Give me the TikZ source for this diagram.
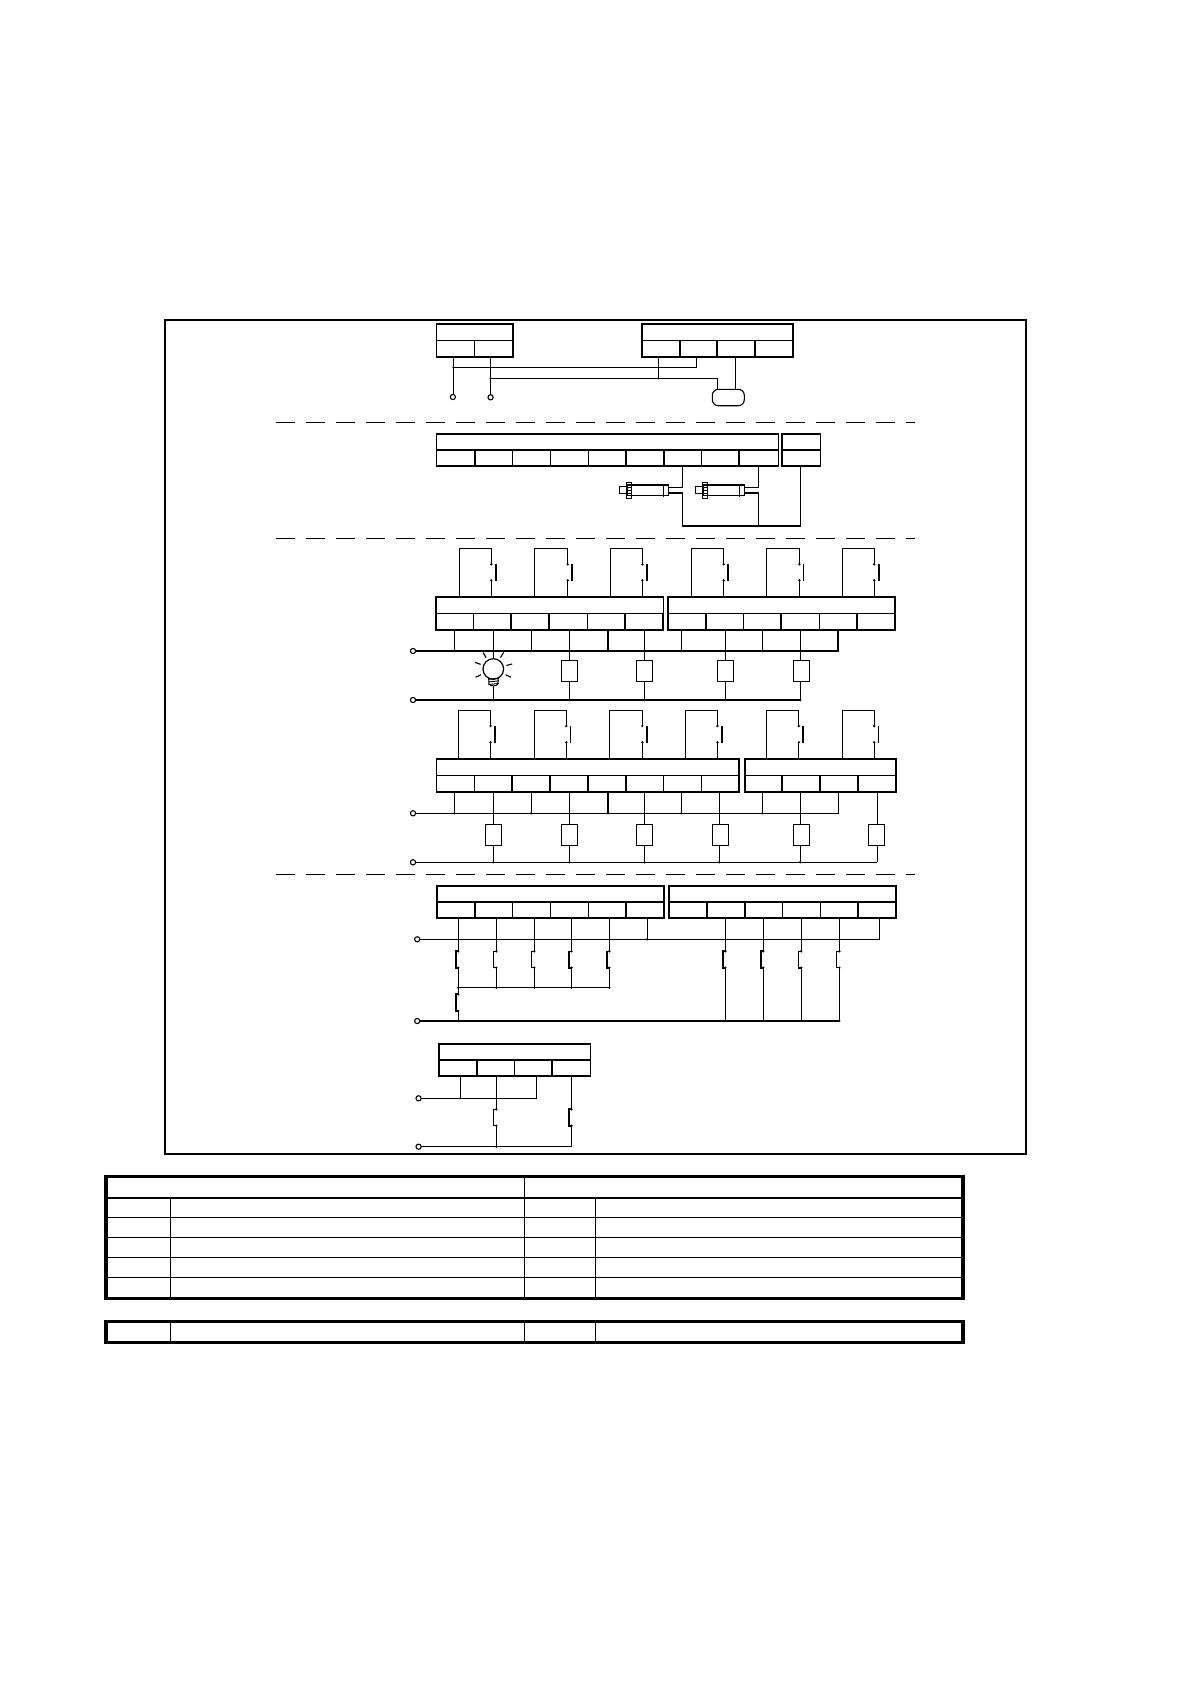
\documentclass[tikz,border=0pt]{standalone}
\usetikzlibrary{positioning}

\tikzset{
    wire/.style={line width=1.2pt},
    blockline/.style={line width=1.8pt},
    hdbox/.style={draw, rectangle, inner sep=0pt, outer sep=0pt, line width=1.2pt},
    cellbox/.style={draw, rectangle, inner sep=0pt, outer sep=0pt, line width=1.1pt},
    load/.style={draw, rectangle, inner sep=0pt, outer sep=0pt, line width=1.2pt, minimum width=16.5pt, minimum height=21.4pt},
    term/.style={draw, circle, inner sep=0pt, outer sep=0pt, line width=1.1pt, minimum size=5.2pt},
    sepline/.style={line width=0.9pt, dash pattern=on 18.7pt off 11.3pt},
    tabthick/.style={line width=3.2pt},
    tabthin/.style={line width=1.2pt},
}

% name, left, right, top, mid, bottom, list of right edge/line width
\newcommand{\termblock}[7]{
    \pgfmathsetmacro{\hdw}{#3-(#2)}
    \pgfmathsetmacro{\hdh}{#5-(#4)}
    \pgfmathsetmacro{\hdx}{(#2+#3)/2}
    \pgfmathsetmacro{\hdy}{(#4+#5)/2}
    \pgfmathsetmacro{\clh}{#6-(#5)}
    \pgfmathsetmacro{\cly}{(#5+#6)/2}
    \node[hdbox, minimum width=\hdw pt, minimum height=\hdh pt] (#1) at (\hdx,\hdy) {};
    \foreach \d/\w [remember=\d as \prev (initially #2), count=\i] in {#7} {
        \pgfmathsetmacro{\clw}{\d-\prev}
        \pgfmathsetmacro{\clx}{(\d+\prev)/2}
        \node[cellbox, minimum width=\clw pt, minimum height=\clh pt] (#1-\i) at (\clx,\cly) {};
        \draw[line width=1.15*\w pt] (\d,#5) -- (\d,#6);
    }
    \draw[blockline] (#2,#4) rectangle (#3,#6);
    \draw[line width=1.4pt] (#2,#5) -- (#3,#5);
}

% left wire, right wire, top, dot, dot, bar width, block name
\newcommand{\contactloop}[7]{
    \coordinate (cl) at (#1,#3);
    \coordinate (cu) at (#2,#4);
    \coordinate (cd) at (#2,#5);
    \draw[wire] (cl |- #7.north) -- (cl) -| (cu);
    \draw[wire] (cd) -- (cd |- #7.north);
    \fill (cu) circle[radius=1.3];
    \fill (cd) circle[radius=1.3];
    \draw[line width=1.15*#6pt] ([xshift=4.5pt,yshift=0.5pt]cu) -- ([xshift=4.5pt,yshift=-0.7pt]cd);
}

% wire, dot, dot, bar width
\newcommand{\breakcontact}[4]{
    \fill (#1,#2) circle[radius=1.3];
    \fill (#1,#3) circle[radius=1.3];
    \draw[line width=1.15*#4pt] (#1,#2) -- ++(-2.6,0) |- (#1,#3);
}

\begin{document}
\begin{tikzpicture}[x=1pt, y=-1pt]
    \useasboundingbox (0,0) rectangle (1190,1684);
    \draw[line width=1.8pt] (164.7,320) rectangle (1026.3,1154);

    \foreach \y in {422.3,538.7,874.3} {
        \draw[sepline] (276,\y) -- (915,\y);
    }

    % supply
    \termblock{pwa}{436.5}{513.3}{324.3}{340.3}{357}{474.4/1,513.3/1}
    \termblock{pwb}{642}{793}{324.3}{340.3}{357}{680/1.6,717/1,755/1,793/1}
    \node[term] (ta) at (452.9,397) {};
    \node[term] (tb) at (490.6,397.3) {};
    \node[draw, rectangle, rounded corners=6pt, line width=1.1pt, inner sep=0pt, outer sep=0pt,
        minimum width=32pt, minimum height=16.4pt] (lamp) at (728.3,397.5) {};
    \coordinate (ja) at (453.4,367.3);
    \coordinate (jb) at (490.6,378.3);
    \coordinate (jc) at (658.3,378.3);
    \coordinate (ea) at (696.1,367.3);
    \coordinate (eb) at (717.1,378.3);
    \coordinate (ec) at (735.4,390);
    \draw[wire] (ja |- pwa-1.south) -- (ja |- ta.north);
    \draw[wire] (jb |- pwa-2.south) -- (tb.north);
    \draw[wire] (ja) -- (ea) -- (ea |- pwb-2.south);
    \draw[wire] (jb) -- (eb) -- (eb |- lamp.north);
    \draw[wire] (jc) -- (jc |- pwb-1.south);
    \draw[wire] (ec |- lamp.north) -- (ec |- pwb-3.south);
    \foreach \p in {ja,jb,jc} {
        \fill (\p) circle[radius=1.2];
    }

    % sensors
    \termblock{sna}{436.5}{778.4}{434}{450}{466.3}{475/1.7,512.6/1,550.5/1,588.7/1,626.2/1.7,664/1.6,701.7/1,739.2/1.7,778.4/1}
    \termblock{snb}{782.2}{820.5}{434}{450}{466.3}{820.5/1}
    \foreach \s/\n in {0/sa,76.1/sb} {
        \begin{scope}[xshift=\s pt]
            \node[draw, rectangle, inner sep=0pt, outer sep=0pt, line width=1.1pt,
                minimum width=41.6pt, minimum height=10.7pt] (\n) at (647.8,490.3) {};
            \draw[line width=0.9pt] (663.4,485) -- (663.4,497);
            \draw[line width=1pt] (619.4,486.3) rectangle (626.2,493.7);
            \draw[line width=1pt] (626.2,482.3) rectangle (631.7,498.7);
            \foreach \y in {485,487.7,490.4,493.1,495.8} {
                \draw[line width=0.7pt] (626.2,\y) -- (631.7,\y);
            }
        \end{scope}
    }
    \coordinate (sau) at (668.6,487.3);
    \coordinate (sad) at (668.6,493);
    \coordinate (sbu) at (744.7,487.3);
    \coordinate (sbd) at (744.7,493);
    \coordinate (sja) at (682.7,526);
    \coordinate (sjb) at (758.5,526);
    \coordinate (sjc) at (800.2,526);
    \draw[wire] (sau) -| (sna-7.south);
    \draw[wire] (sbu) -| (sna-9.south);
    \draw[wire] (sad) -| (sja) -- (sjc) -- (sjc |- snb-1.south);
    \draw[wire] (sbd) -| (sjb);
    \fill (sjb) circle[radius=1.2];

    % outputs, first row
    \termblock{upa}{435.8}{663.4}{597}{613.7}{630}{473.3/1,510.9/1.7,549.1/1.7,587.3/1,624.9/1.7,663.4/1.7}
    \termblock{upb}{667.6}{894.8}{597}{613.7}{630}{705.8/1.7,743.3/1,781.2/1.7,819.4/1,857.3/1.7,894.8/1.7}
    \contactloop{459.2}{491.3}{548.3}{564.3}{580.3}{1.7}{upa}
    \contactloop{534.3}{567.7}{548.3}{564.3}{580.3}{1.7}{upa}
    \contactloop{610.4}{642.4}{548.3}{564.3}{580.3}{1.7}{upa}
    \contactloop{691.3}{723.7}{548.3}{564.3}{580.3}{1.4}{upb}
    \contactloop{766.4}{799.4}{548.3}{564.3}{580.3}{0.9}{upb}
    \contactloop{842.1}{874.2}{548.3}{564.3}{580.3}{1.7}{upb}

    \node[term] (tc) at (413,651) {};
    \node[term] (td) at (413,700) {};
    \coordinate (ed) at (838,651);
    \coordinate (ee) at (800.2,700);
    \draw[wire] (tc) -- (ed) -- (ed |- upb-5.south);
    \draw[wire] (td) -- (ee);
    \foreach \x/\n in {454.4/upa-1,531.2/upa-3,608/upa-5,681.3/upb-1,762.3/upb-3} {
        \coordinate (tl) at (\x,651);
        \draw[wire] (tl |- \n.south) -- (tl);
        \fill (tl) circle[radius=1.3];
    }
    \foreach \x/\lx/\n [count=\i] in {569.4/569.5/upa-4,644.5/644.5/upa-6,725.4/725.4/upb-2,800.2/801.5/upb-4} {
        \node[load] (ua\i) at (\lx,671) {};
        \coordinate (ub\i) at (\x,700);
        \draw[wire] (ub\i |- \n.south) -- (ub\i |- ua\i.north);
        \draw[wire] (ub\i |- ua\i.south) -- (ub\i);
        \fill (ub\i) circle[radius=1.3];
    }

    % lamp with its rays
    \node[draw, circle, inner sep=0pt, outer sep=0pt, line width=1.2pt, minimum size=20.6pt] (bulb) at (493.3,669) {};
    \coordinate (bb) at (493.3,700);
    \draw[wire] (bulb.north |- upa-2.south) -- (bulb.north);
    \draw[wire] (493.3,686) -- (bb);
    \fill (bb) circle[radius=1.3];
    \foreach \a in {-122,-58,-160,-15,25,155} {
        \draw[line width=1.1pt] ([shift={(\a:13.5)}]bulb.center) -- ([shift={(\a:19.5)}]bulb.center);
    }
    \draw[line width=1pt] (488.6,677) -- (489,684) .. controls (490,686.5) and (496.6,686.5) .. (497.8,684) -- (498.4,677);
    \foreach \y in {679.3,682,684.6} {
        \draw[line width=0.9pt] (488.4,\y) -- (498.8,\y-1.2);
    }

    % outputs, second row
    \termblock{loa}{436.5}{739.2}{759}{775.7}{792}{474.4/1,512.3/1.7,550.1/1.7,588/1.9,625.9/1.9,663.8/1,701.7/1,739.2/1.7}
    \termblock{lob}{744.7}{896.2}{759}{775.7}{792}{782.2/1.7,820.1/1.7,858.3/1.7,896.2/1.7}
    \contactloop{458.2}{490.6}{710.3}{726}{742.3}{1.7}{loa}
    \contactloop{534.3}{566.3}{710.3}{726}{742.3}{0.9}{loa}
    \contactloop{609.4}{642.4}{710.3}{726}{742.3}{1.7}{loa}
    \contactloop{685.5}{717.5}{710.3}{726}{742.3}{1.7}{loa}
    \contactloop{766.4}{798.8}{710.3}{726}{742.3}{1.7}{lob}
    \contactloop{842.1}{874.2}{710.3}{726}{742.3}{0.9}{lob}

    \node[term] (te) at (413,813.3) {};
    \node[term] (tf) at (413,862.3) {};
    \coordinate (ef) at (838.4,813.3);
    \coordinate (eg) at (877.3,862.3);
    \draw[wire] (te) -- (ef) -- (ef |- lob-3.south);
    \draw[wire] (tf) -- (eg);
    \foreach \x/\n in {454.4/loa-1,531.2/loa-3,608/loa-5,681.3/loa-7,762.3/lob-1} {
        \coordinate (tl) at (\x,813.3);
        \draw[wire] (tl |- \n.south) -- (tl);
        \fill (tl) circle[radius=1.3];
    }
    \foreach \x/\lx/\n [count=\i] in {493.3/493.5/loa-2,569.4/569.5/loa-4,644.5/644.5/loa-6,719.2/720.4/loa-8,800.2/801.5/lob-2,877.3/876.4/lob-4} {
        \node[load] (la\i) at (\lx,835) {};
        \coordinate (lb\i) at (\x,862.3);
        \draw[wire] (lb\i |- \n.south) -- (lb\i |- la\i.north);
        \draw[wire] (lb\i |- la\i.south) -- (lb\i);
    }
    \foreach \i in {1,...,5} {
        \fill (lb\i) circle[radius=1.3];
    }

    % inputs
    \termblock{ina}{436.8}{664.1}{885.7}{902}{918}{475/1.7,512.6/1,550.5/1,588.7/1,626.2/1.7,664.1/1.7}
    \termblock{inb}{668.6}{896.2}{885.7}{902}{918}{706.8/1.7,744.7/1.7,782.2/1,820.5/1,858.3/1.7,896.2/1.7}
    \node[term] (tg) at (417.2,939.3) {};
    \node[term] (th) at (417.2,1021) {};
    \coordinate (eh) at (879.3,939.3);
    \coordinate (ei) at (839.4,1021);
    \coordinate (jd) at (647.2,939.3);
    \coordinate (ke) at (458.2,987.7);
    \coordinate (kf) at (609.4,987.7);
    \coordinate (kg) at (458.2,1021);
    \draw[wire] (tg) -- (eh) -- (eh |- inb-6.south);
    \draw[wire] (jd) -- (jd |- ina-6.south);
    \fill (jd) circle[radius=1.3];
    \draw[wire] (th) -- (ei);
    \draw[wire] (ke) -- (kf);
    \foreach \x/\n/\w in {458.2/ina-1/1.7,496.4/ina-2/0.9,534.3/ina-3/0.9,571.5/ina-4/1.4,609.4/ina-5/1.4} {
        \coordinate (iu) at (\x,951.3);
        \coordinate (id) at (\x,967.7);
        \draw[wire] (iu |- \n.south) -- (iu);
        \draw[wire] (id) -- (id |- ke);
        \breakcontact{\x}{951.3}{967.7}{\w}
        \fill (id |- ke) circle[radius=1.2];
    }
    \draw[wire] (ke) -- (458.2,994.3);
    \breakcontact{458.2}{994.3}{1011}{1.7}
    \draw[wire] (458.2,1011) -- (kg);
    \fill (kg) circle[radius=1.3];
    \foreach \x/\n/\w in {725.4/inb-2/1.7,763.3/inb-3/1.7,801.2/inb-4/1.4,839.4/inb-5/0.9} {
        \coordinate (iu) at (\x,951.3);
        \coordinate (id) at (\x,967.7);
        \draw[wire] (iu |- \n.south) -- (iu);
        \draw[wire] (id) -- (id |- ei);
        \breakcontact{\x}{951.3}{967.7}{\w}
        \fill (id |- ei) circle[radius=1.2];
    }

    % last block
    \termblock{oth}{438.6}{590.4}{1044}{1060}{1076.3}{476.8/1.5,514.3/1,551.9/1.7,590.4/1}
    \node[term] (ti) at (418.6,1098.3) {};
    \node[term] (tj) at (418.6,1146.7) {};
    \coordinate (ej) at (536.4,1098.3);
    \coordinate (jk) at (460.3,1098.3);
    \coordinate (ek) at (571.5,1146.7);
    \coordinate (jl) at (496.4,1146.7);
    \draw[wire] (ti) -- (ej) -- (ej |- oth-3.south);
    \draw[wire] (jk) -- (jk |- oth-1.south);
    \fill (jk) circle[radius=1.2];
    \draw[wire] (tj) -- (ek);
    \draw[wire] (jl |- oth-2.south) -- (496.4,1109.3);
    \draw[wire] (496.4,1125.7) -- (jl);
    \fill (jl) circle[radius=1.2];
    \breakcontact{496.4}{1109.3}{1125.7}{0.9}
    \draw[wire] (ek |- oth-4.south) -- (571.5,1109.3);
    \draw[wire] (571.5,1125.7) -- (ek);
    \breakcontact{571.5}{1109.3}{1125.7}{1.7}

    % tables
    \foreach \y in {1217.3,1237.3,1257.3,1277.3} {
        \draw[tabthin] (106,\y) -- (963,\y);
    }
    \draw[line width=2.3pt] (106,1198) -- (963,1198);
    \draw[tabthin] (524.6,1176.3) -- (524.6,1298.3);
    \foreach \x in {170.4,595.7} {
        \draw[tabthin] (\x,1198) -- (\x,1298.3);
    }
    \draw[tabthick] (106,1176.3) rectangle (963,1298.3);
    \foreach \x in {170.4,524.6,595.7} {
        \draw[tabthin] (\x,1321.3) -- (\x,1342.7);
    }
    \draw[tabthick] (106,1321.3) rectangle (963,1342.7);
\end{tikzpicture}
\end{document}
